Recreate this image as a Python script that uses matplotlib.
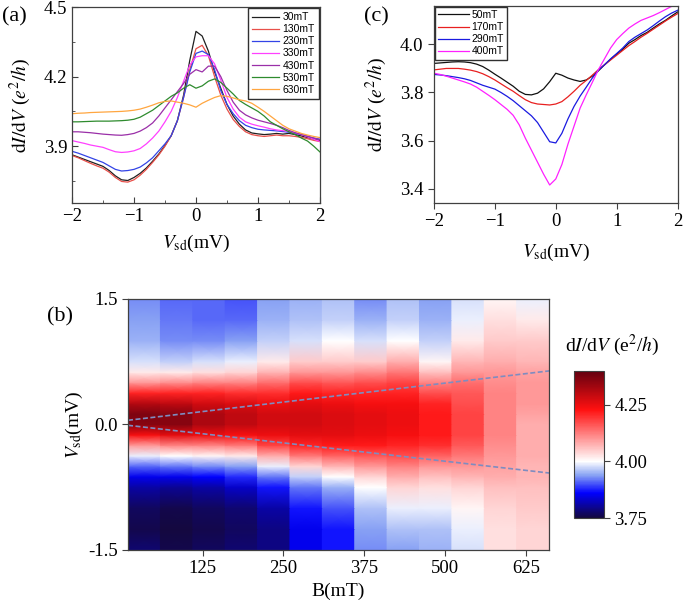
import numpy as np
import matplotlib.pyplot as plt
from matplotlib.colors import LinearSegmentedColormap
from matplotlib.ticker import MultipleLocator

plt.rcParams['font.family'] = ['Liberation Serif', 'DejaVu Serif']
plt.rcParams['mathtext.fontset'] = 'stix'

# ---- panel (a): dI/dV vs Vsd at several fields ----
vsd = np.linspace(-2, 2, 41)
labels_a = ['30mT', '130mT', '230mT', '330mT', '430mT', '530mT', '630mT']
colors_a = ['#202020', '#e8504a', '#3344e6', '#ff40ff', '#9a2fa8', '#2e8b2e', '#ffa640']
g30 = [3.863, 3.853, 3.843, 3.833, 3.823, 3.813, 3.795, 3.772, 3.755, 3.752, 3.765, 3.783, 3.806, 3.835,
       3.866, 3.903, 3.945, 4.010, 4.120, 4.270, 4.395, 4.375, 4.310, 4.220, 4.150, 4.080, 4.030, 3.995,
       3.970, 3.957, 3.953, 3.950, 3.952, 3.955, 3.952, 3.955, 3.950, 3.944, 3.937, 3.930, 3.925]
g130 = [3.860, 3.850, 3.838, 3.826, 3.815, 3.805, 3.788, 3.765, 3.748, 3.745, 3.755, 3.775, 3.800, 3.830,
        3.862, 3.900, 3.945, 4.010, 4.110, 4.230, 4.320, 4.335, 4.290, 4.200, 4.120, 4.060, 4.015, 3.985,
        3.962, 3.950, 3.945, 3.942, 3.945, 3.948, 3.945, 3.945, 3.942, 3.938, 3.932, 3.925, 3.920]
g230 = [3.878, 3.870, 3.860, 3.850, 3.840, 3.830, 3.815, 3.800, 3.793, 3.795, 3.800, 3.810, 3.828, 3.850,
        3.880, 3.910, 3.945, 4.010, 4.110, 4.220, 4.300, 4.310, 4.295, 4.230, 4.140, 4.080, 4.040, 4.010,
        3.990, 3.980, 3.973, 3.970, 3.968, 3.966, 3.963, 3.960, 3.955, 3.950, 3.943, 3.935, 3.930]
g330 = [3.924, 3.918, 3.912, 3.905, 3.900, 3.895, 3.885, 3.876, 3.873, 3.875, 3.880, 3.890, 3.910, 3.935,
        3.965, 4.005, 4.050, 4.110, 4.180, 4.250, 4.285, 4.290, 4.290, 4.255, 4.185, 4.110, 4.060, 4.025,
        4.005, 3.995, 3.988, 3.982, 3.975, 3.970, 3.967, 3.963, 3.958, 3.950, 3.940, 3.930, 3.920]
g430 = [3.962, 3.962, 3.960, 3.958, 3.955, 3.952, 3.950, 3.948, 3.947, 3.950, 3.955, 3.965, 3.980, 4.000,
        4.030, 4.065, 4.100, 4.135, 4.170, 4.210, 4.230, 4.220, 4.245, 4.245, 4.200, 4.140, 4.090, 4.055,
        4.035, 4.022, 4.012, 4.005, 3.998, 3.990, 3.980, 3.968, 3.958, 3.950, 3.942, 3.935, 3.928]
g530 = [4.005, 4.005, 4.006, 4.007, 4.008, 4.008, 4.008, 4.009, 4.010, 4.012, 4.016, 4.025, 4.040, 4.055,
        4.075, 4.095, 4.115, 4.130, 4.150, 4.165, 4.150, 4.160, 4.180, 4.190, 4.175, 4.150, 4.125, 4.097,
        4.080, 4.065, 4.050, 4.030, 4.005, 3.990, 3.975, 3.962, 3.950, 3.935, 3.922, 3.900, 3.875]
g630 = [4.040, 4.042, 4.043, 4.045, 4.046, 4.047, 4.048, 4.049, 4.050, 4.052, 4.055, 4.060, 4.068, 4.077,
        4.087, 4.093, 4.095, 4.090, 4.085, 4.078, 4.068, 4.085, 4.098, 4.110, 4.118, 4.115, 4.108, 4.100,
        4.095, 4.085, 4.068, 4.050, 4.030, 4.010, 3.990, 3.975, 3.965, 3.955, 3.948, 3.942, 3.937]
curves_a = [g30, g130, g230, g330, g430, g530, g630]

# ---- panel (c) ----
labels_c = ['50mT', '170mT', '290mT', '400mT']
colors_c = ['#101010', '#e82020', '#1a1ae0', '#ff20ff']
c50 = [3.921, 3.923, 3.925, 3.927, 3.928, 3.927, 3.924, 3.918, 3.908, 3.893, 3.876, 3.860, 3.843, 3.826,
       3.805, 3.792, 3.790, 3.797, 3.815, 3.845, 3.880, 3.872, 3.860, 3.852, 3.846, 3.852, 3.868, 3.890,
       3.915, 3.938, 3.960, 3.980, 4.005, 4.020, 4.037, 4.050, 4.068, 4.085, 4.100, 4.118, 4.135]
c170 = [3.894, 3.897, 3.900, 3.900, 3.900, 3.897, 3.893, 3.887, 3.878, 3.866, 3.852, 3.836, 3.820, 3.805,
        3.787, 3.770, 3.758, 3.752, 3.750, 3.748, 3.752, 3.762, 3.782, 3.805, 3.830, 3.850, 3.872, 3.895,
        3.915, 3.935, 3.955, 3.975, 3.995, 4.012, 4.030, 4.046, 4.063, 4.080, 4.097, 4.113, 4.128]
c290 = [3.875, 3.873, 3.870, 3.866, 3.862, 3.857, 3.850, 3.840, 3.830, 3.822, 3.814, 3.800, 3.784, 3.766,
        3.745, 3.724, 3.703, 3.675, 3.635, 3.595, 3.590, 3.630, 3.690, 3.742, 3.785, 3.822, 3.860, 3.893,
        3.915, 3.940, 3.962, 3.985, 4.012, 4.030, 4.045, 4.060, 4.078, 4.097, 4.115, 4.130, 4.142]
c400 = [3.880, 3.875, 3.868, 3.860, 3.852, 3.844, 3.835, 3.822, 3.805, 3.788, 3.770, 3.750, 3.730, 3.705,
        3.665, 3.610, 3.560, 3.510, 3.460, 3.415, 3.440, 3.500, 3.585, 3.660, 3.735, 3.790, 3.842, 3.895,
        3.940, 3.985, 4.020, 4.045, 4.068, 4.085, 4.100, 4.110, 4.120, 4.132, 4.145, 4.158, 4.170]
curves_c = [c50, c170, c290, c400]

# ---- panel (b): colour map, one column per field ----
map_B = [35, 85, 135, 185, 235, 285, 335, 385, 435, 485, 535, 585, 635]
map_V = [-1.5, -1.25, -1.0, -0.75, -0.625, -0.5, -0.375, -0.25, -0.125, 0.0,
         0.125, 0.25, 0.375, 0.5, 0.625, 0.75, 1.0, 1.25, 1.5]
map_vals = [
    [3.78, 3.76, 3.77, 3.81, 3.85, 3.91, 3.99, 4.10, 4.24, 4.36, 4.37, 4.31, 4.21, 4.10, 4.02, 3.98, 3.95, 3.94, 3.93],
    [3.76, 3.75, 3.76, 3.80, 3.85, 3.92, 4.00, 4.12, 4.26, 4.36, 4.36, 4.30, 4.21, 4.11, 4.02, 3.97, 3.93, 3.92, 3.91],
    [3.77, 3.76, 3.77, 3.81, 3.86, 3.93, 4.01, 4.12, 4.25, 4.32, 4.32, 4.28, 4.21, 4.12, 4.03, 3.98, 3.93, 3.91, 3.91],
    [3.78, 3.77, 3.78, 3.83, 3.88, 3.94, 4.02, 4.13, 4.24, 4.30, 4.30, 4.27, 4.20, 4.12, 4.04, 3.99, 3.94, 3.91, 3.90],
    [3.79, 3.79, 3.81, 3.87, 3.92, 3.99, 4.08, 4.18, 4.25, 4.28, 4.28, 4.25, 4.20, 4.14, 4.07, 4.02, 3.97, 3.95, 3.94],
    [3.85, 3.85, 3.87, 3.92, 3.97, 4.04, 4.13, 4.21, 4.26, 4.28, 4.28, 4.26, 4.22, 4.17, 4.10, 4.05, 3.98, 3.96, 3.95],
    [3.87, 3.87, 3.90, 3.95, 4.00, 4.07, 4.15, 4.22, 4.26, 4.27, 4.27, 4.25, 4.21, 4.16, 4.10, 4.05, 4.00, 3.97, 3.96],
    [3.93, 3.94, 3.96, 4.00, 4.04, 4.10, 4.16, 4.22, 4.25, 4.26, 4.26, 4.24, 4.21, 4.17, 4.11, 4.05, 3.98, 3.95, 3.93],
    [3.94, 3.96, 3.99, 4.04, 4.08, 4.12, 4.17, 4.21, 4.24, 4.25, 4.25, 4.24, 4.21, 4.18, 4.13, 4.08, 4.00, 3.97, 3.96],
    [3.95, 3.96, 3.99, 4.03, 4.06, 4.10, 4.15, 4.20, 4.22, 4.22, 4.22, 4.21, 4.17, 4.12, 4.06, 4.01, 3.97, 3.95, 3.94],
    [3.98, 3.99, 4.01, 4.04, 4.07, 4.10, 4.13, 4.16, 4.18, 4.18, 4.18, 4.17, 4.16, 4.14, 4.10, 4.07, 4.02, 3.99, 3.98],
    [4.03, 4.03, 4.04, 4.06, 4.08, 4.09, 4.10, 4.11, 4.12, 4.12, 4.12, 4.12, 4.12, 4.11, 4.10, 4.08, 4.05, 4.03, 4.01],
    [4.04, 4.04, 4.05, 4.06, 4.07, 4.07, 4.08, 4.08, 4.08, 4.08, 4.09, 4.10, 4.10, 4.10, 4.09, 4.07, 4.05, 4.02, 3.99],
]
gap_B = [10, 660]
gap_upper = [0.05, 0.64]
gap_lower = [-0.01, -0.58]

vmin, vmax = 3.75, 4.40
nodes = [(3.75, '#14083f'), (3.86, '#0000ff'), (3.94, '#8aa4f4'), (4.0, '#ffffff'),
         (4.23, '#ff1010'), (4.40, '#640010')]
cmap = LinearSegmentedColormap.from_list(
    'gap', [((v - vmin) / (vmax - vmin), c) for v, c in nodes])

fig = plt.figure(figsize=(6.85, 6.1), dpi=100)
spine_col = '#404040'


def style_box(ax):
    for s in ax.spines.values():
        s.set_color(spine_col)
        s.set_linewidth(0.9)


# (a)
ax_a = fig.add_axes([0.1051, 0.6672, 0.3620, 0.3213])
for vals, lab, col in zip(curves_a, labels_a, colors_a):
    ax_a.plot(vsd, vals, color=col, lw=0.9, label=lab)
ax_a.set_xlim(-2, 2)
ax_a.set_ylim(3.655, 4.5)
ax_a.yaxis.set_major_locator(MultipleLocator(0.3))
ax_a.yaxis.set_minor_locator(MultipleLocator(0.15))
ax_a.xaxis.set_major_locator(MultipleLocator(1))
ax_a.xaxis.set_minor_locator(MultipleLocator(0.5))
ax_a.tick_params(which='both', direction='in', labelsize=13.5, color=spine_col)
ax_a.tick_params(which='major', length=4)
ax_a.tick_params(which='minor', length=2.5)
ax_a.set_xlabel(r'$V_{\mathrm{sd}}$(mV)', fontsize=14, labelpad=6)
ax_a.set_ylabel(r'$\mathrm{d}I/\mathrm{d}V$ ($e^2/h$)', fontsize=14, labelpad=8)
style_box(ax_a)
leg = ax_a.legend(loc='upper right', prop={'family': 'Liberation Sans', 'size': 7.5},
                  fancybox=False, edgecolor='#303030', framealpha=1, borderaxespad=0.1,
                  handlelength=2.6, labelspacing=0.2, borderpad=0.4, handletextpad=0.3)
leg.get_frame().set_linewidth(1.0)

# (c)
ax_c = fig.add_axes([0.6336, 0.6672, 0.3555, 0.3230])
for vals, lab, col in zip(curves_c, labels_c, colors_c):
    ax_c.plot(vsd, vals, color=col, lw=0.9, label=lab)
ax_c.set_xlim(-2, 2)
ax_c.set_ylim(3.34, 4.16)
ax_c.set_yticks([3.4, 3.6, 3.8, 4.0])
ax_c.xaxis.set_major_locator(MultipleLocator(1))
ax_c.tick_params(direction='out', labelsize=13.5, length=4, color=spine_col)
ax_c.set_xlabel(r'$V_{\mathrm{sd}}$(mV)', fontsize=14, labelpad=8)
ax_c.set_ylabel(r'$\mathrm{d}I/\mathrm{d}V$ ($e^2/h$)', fontsize=14, labelpad=8)
style_box(ax_c)
leg = ax_c.legend(loc='upper left', prop={'family': 'Liberation Sans', 'size': 7.5},
                  fancybox=False, edgecolor='#303030', framealpha=1, borderaxespad=0.1,
                  handlelength=3.0, labelspacing=0.2, borderpad=0.3, handletextpad=0.2)
leg.get_frame().set_linewidth(1.0)

# (b)
ax_b = fig.add_axes([0.1869, 0.0984, 0.6146, 0.4115])
b_cols = np.array(map_B, dtype=float)
half = (b_cols[1] - b_cols[0]) / 2
xs = np.repeat(b_cols, 2) + np.tile([-half, half], len(b_cols))
C = np.repeat(np.array(map_vals).T, 2, axis=1)
X, Y = np.meshgrid(xs, map_V)
mesh = ax_b.pcolormesh(X, Y, C, shading='gouraud', cmap=cmap, vmin=vmin, vmax=vmax)
ax_b.plot(gap_B, gap_upper, ls='--', color='#7f8cc0', lw=1.2, dashes=(3, 1.5))
ax_b.plot(gap_B, gap_lower, ls='--', color='#7f8cc0', lw=1.2, dashes=(3, 1.5))
ax_b.set_xlim(xs[0], xs[-1])
ax_b.set_ylim(-1.5, 1.5)
ax_b.set_xticks([125, 250, 375, 500, 625])
ax_b.set_yticks([-1.5, 0.0, 1.5])
ax_b.set_yticklabels(['-1.5', '0.0', '1.5'])
ax_b.tick_params(direction='out', labelsize=13.5, length=4, color=spine_col)
ax_b.set_xlabel('B(mT)', fontsize=14, labelpad=4)
ax_b.set_ylabel(r'$V_{\mathrm{sd}}$(mV)', fontsize=14, labelpad=2)
style_box(ax_b)

cax = fig.add_axes([0.838, 0.1508, 0.0438, 0.241])
cb = fig.colorbar(mesh, cax=cax, ticks=[3.75, 4.0, 4.25])
cb.ax.set_yticklabels(['3.75', '4.00', '4.25'])
cb.ax.tick_params(labelsize=13.5, length=4, color=spine_col)
cb.outline.set_edgecolor(spine_col)
fig.text(0.893, 0.434, r'd$I$/d$V$ (e$^2$/$h$)', fontsize=14, ha='center', va='center')

# panel letters
fig.text(0.003, 0.972, '(a)', fontsize=16, va='center')
fig.text(0.532, 0.972, '(c)', fontsize=16, va='center')
fig.text(0.068, 0.48, '(b)', fontsize=16, va='center')

fig.savefig('out.png', dpi=100)
